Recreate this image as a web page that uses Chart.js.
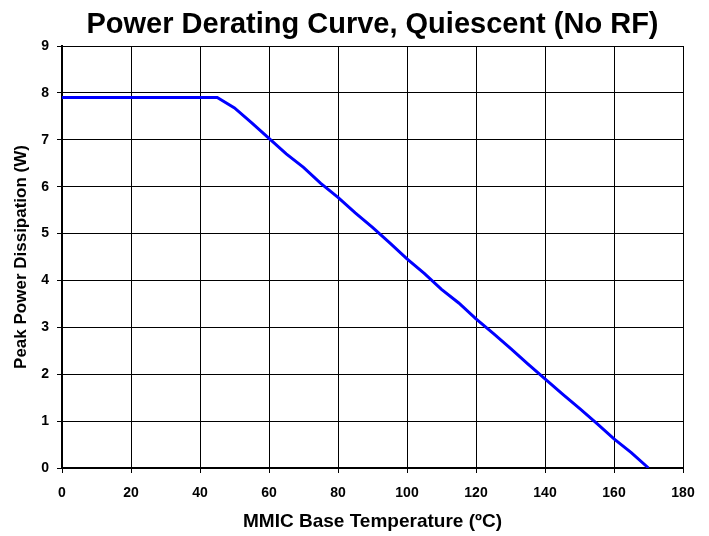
<!DOCTYPE html>
<html>
<head>
<meta charset="utf-8">
<script src="https://cdn.jsdelivr.net/npm/chart.js@4"></script>
<style>
  html, body { margin: 0; padding: 0; background: #fff; }
  #wrap { width: 709px; height: 536px; }
</style>
</head>
<body>
<div id="wrap"><canvas id="chartDerating" width="709" height="536"></canvas></div>
<script>
// Base temperature (ºC) and peak power dissipation (W)
const temps = [0, 45, 50, 55, 60, 65, 70, 75, 80, 85, 90, 95, 100, 105, 110, 115, 120, 125, 130, 135, 140, 145, 150, 155, 160, 165, 170];
const power = [7.9, 7.9, 7.68, 7.36, 7.03, 6.7, 6.41, 6.07, 5.77, 5.44, 5.13, 4.8, 4.46, 4.15, 3.81, 3.52, 3.18, 2.87, 2.55, 2.22, 1.9, 1.58, 1.27, 0.95, 0.62, 0.33, 0];

const xTicks = [0, 20, 40, 60, 80, 100, 120, 140, 160, 180];
const yTicks = [0, 1, 2, 3, 4, 5, 6, 7, 8, 9];

const fontFamily = '"Liberation Sans", Arial, sans-serif';

// center the title over the plot area instead of the whole canvas
const titleOverPlot = {
    id: 'titleOverPlot',
    afterLayout(chart) {
        if (chart.titleBlock) {
            chart.titleBlock.left = chart.chartArea.left;
            chart.titleBlock.right = chart.chartArea.right;
        }
    }
};

const ctx = document.getElementById('chartDerating').getContext('2d');
new Chart(ctx, {
    type: 'line',
    data: {
        datasets: [{
            data: temps.map((t, i) => ({ x: t, y: power[i] })),
            borderColor: '#0000FF',
            borderWidth: 3,
            pointRadius: 0,
            tension: 0,
            fill: false
        }]
    },
    options: {
        responsive: false,
        animation: false,
        layout: { padding: { left: 0, right: 26, top: 0, bottom: 0 } },
        plugins: {
            legend: { display: false },
            tooltip: { enabled: false },
            title: {
                display: true,
                text: 'Power Derating Curve, Quiescent (No RF)',
                color: '#000',
                font: { family: fontFamily, size: 29, weight: 'bold' },
                padding: { top: 8, bottom: 3.2 }
            }
        },
        scales: {
            x: {
                type: 'linear',
                min: 0,
                max: 180,
                afterBuildTicks: s => { s.ticks = xTicks.map(v => ({ value: v })); },
                afterFit: s => { s.height = 68; },
                ticks: {
                    color: '#000',
                    padding: 12,
                    maxRotation: 0,
                    font: { family: fontFamily, size: 14, weight: 'bold' }
                },
                grid: { color: '#000', lineWidth: 1, tickLength: 5 },
                border: { color: '#000', width: 2 },
                title: {
                    display: true,
                    text: 'MMIC Base Temperature (ºC)',
                    color: '#000',
                    font: { family: fontFamily, size: 19, weight: 'bold' },
                    padding: { top: 0, bottom: 3 }
                }
            },
            y: {
                type: 'linear',
                min: 0,
                max: 9,
                afterBuildTicks: s => { s.ticks = yTicks.map(v => ({ value: v })); },
                afterFit: s => { s.width = 62; },
                ticks: {
                    color: '#000',
                    padding: 8,
                    font: { family: fontFamily, size: 14, weight: 'bold' }
                },
                grid: { color: '#000', lineWidth: 1, tickLength: 5 },
                border: { color: '#000', width: 2 },
                title: {
                    display: true,
                    text: 'Peak Power Dissipation (W)',
                    color: '#000',
                    font: { family: fontFamily, size: 17, weight: 'bold' },
                    padding: { top: 11, bottom: 0 }
                }
            }
        }
    },
    plugins: [titleOverPlot]
});
</script>
</body>
</html>
